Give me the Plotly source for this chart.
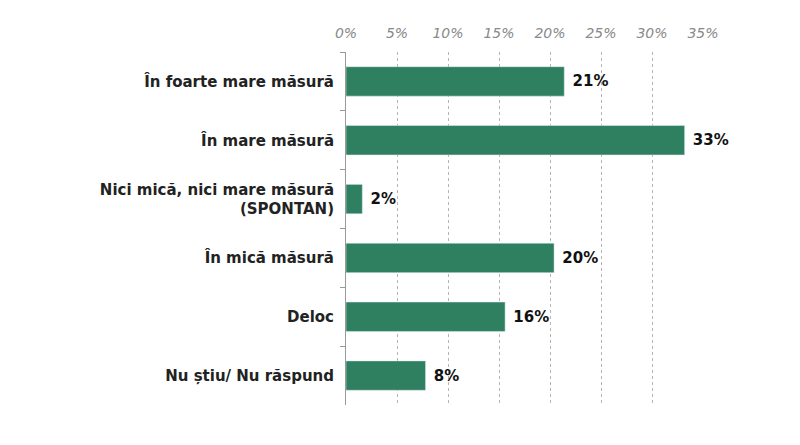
import plotly.graph_objects as go

categories = [
    "În foarte mare măsură",
    "În mare măsură",
    "Nici mică, nici mare măsură<br>(SPONTAN)",
    "În mică măsură",
    "Deloc",
    "Nu știu/ Nu răspund",
]
values = [21.4, 33.2, 1.6, 20.4, 15.6, 7.8]
labels = [f" {round(v)}%" for v in values]
tick_vals = [0, 5, 10, 15, 20, 25, 30, 35]
tick_text = [f"{t}%" for t in tick_vals]

fig = go.Figure()
fig.add_trace(
    go.Bar(
        x=values,
        y=categories,
        orientation="h",
        width=0.5,
        marker=dict(color="#2f7f61"),
        text=labels,
        textposition="outside",
        cliponaxis=False,
        textfont=dict(family="DejaVu Sans", size=15, color="#111111", weight="bold"),
    )
)

# the page adds an 8px body margin, so margins are shifted by that
fig.update_layout(
    width=800,
    height=445,
    margin=dict(l=338, r=105, t=44, b=48),
    plot_bgcolor="white",
    paper_bgcolor="white",
    showlegend=False,
    xaxis=dict(
        side="top",
        range=[0, 35],
        tickvals=tick_vals,
        ticktext=tick_text,
        tickfont=dict(family="DejaVu Sans", size=14, color="#8a8a8a", style="italic"),
        ticklabelstandoff=10,
        showgrid=True,
        gridcolor="#b5b5b5",
        griddash="dot",
        gridwidth=1,
        zeroline=False,
        showline=False,
        ticks="",
        automargin=False,
    ),
    yaxis=dict(
        autorange="reversed",
        showline=True,
        linecolor="#9a9a9a",
        linewidth=1,
        ticks="outside",
        tickson="boundaries",
        ticklen=5,
        tickcolor="#9a9a9a",
        ticklabelstandoff=8,
        tickfont=dict(family="DejaVu Sans", size=15, color="#222222", weight="bold"),
        showgrid=False,
        automargin=False,
    ),
)

fig.write_html("out.html")
